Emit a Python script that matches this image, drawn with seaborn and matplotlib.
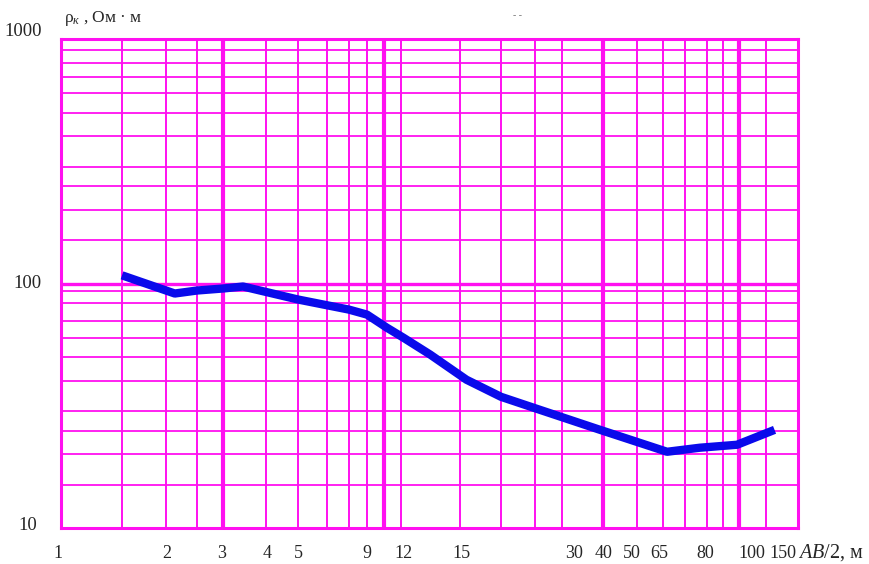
import numpy as np
import matplotlib
matplotlib.use("Agg")
import matplotlib.pyplot as plt
from matplotlib.transforms import ScaledTranslation, blended_transform_factory
import seaborn as sns

# Sounding curve: apparent resistivity vs half-spacing AB/2
ab2 = [1.5, 2.13, 2.5, 3.0, 3.43, 5.0, 7.0, 9.0, 10.3, 12.1, 13.4, 15.7,
       20.0, 25.9, 39.2, 65.9, 76.6, 98.7, 162.0]
rho = [108.0, 91.0, 93.6, 95.4, 97.2, 86.0, 78.2, 74.6, 66.0, 60.1, 51.2, 40.4,
       34.4, 30.4, 25.2, 20.5, 21.3, 21.9, 25.2]

# Printed x tick labels
x_tick_values = [1, 2, 3, 4, 5, 9, 12, 15, 30, 40, 50, 65, 80, 100, 150]
x_tick_labels = ["1", "2", "3", "4", "5", "9", "12", "15", "30", "40", "50",
                 "65", "80", "100", "150"]
y_tick_values = [10, 100, 1000]
y_tick_labels = ["10", "100", "1000"]

# Hand-lettered label placement: horizontal nudge of each x label (pixels)
x_label_nudge = [-3, 1, -1, 1, 0, 0, 2, 1, 12, 1, -5, -4, -2, 13, 17]
# y labels: (right-edge gap from the frame, baseline shift) in pixels
y_label_nudge = [(-24, -2), (-19, -5), (-19, 3)]

# Chart-paper rulings (vertical columns of the log sheet and horizontal rows)
paper_cols = [1, 1.5, 2, 2.5, 3, 4, 5, 6, 7, 9, 10, 12, 15, 20, 25, 30, 40,
              50, 65, 70, 80, 90, 100, 150, 200]
paper_col_pos = [61, 122, 166, 197, 223, 266, 298, 327, 349, 367, 384, 401,
                 460, 501, 535, 562, 603, 637, 663, 685, 707, 723, 739, 766, 798]
bold_cols = [3, 10, 40, 100]
paper_rows = [15, 20, 25, 30, 40, 50, 60, 70, 83, 93, 100,
              150, 200, 250, 300, 400, 500, 600, 700, 800, 900]
bold_rows = [100]

LOG_COLS = np.log10(np.array(paper_cols, float))
POS_COLS = np.array(paper_col_pos, float)


def _piecewise(x, xp, fp):
    x = np.asarray(x, float)
    y = np.interp(x, xp, fp)
    lo_slope = (fp[1] - fp[0]) / (xp[1] - xp[0])
    hi_slope = (fp[-1] - fp[-2]) / (xp[-1] - xp[-2])
    y = np.where(x < xp[0], fp[0] + (x - xp[0]) * lo_slope, y)
    y = np.where(x > xp[-1], fp[-1] + (x - xp[-1]) * hi_slope, y)
    return y


def paper_forward(v):
    v = np.clip(np.asarray(v, float), 1e-6, None)
    return _piecewise(np.log10(v), LOG_COLS, POS_COLS)


def paper_inverse(u):
    return 10 ** _piecewise(u, POS_COLS, LOG_COLS)


sns.set_theme(style="white")
plt.rcParams["font.family"] = ["Liberation Serif", "DejaVu Serif"]
plt.rcParams["mathtext.fontset"] = "custom"
plt.rcParams["mathtext.rm"] = "Liberation Serif"
plt.rcParams["mathtext.it"] = "Liberation Serif:italic"

MAGENTA = "#FF10F0"
BLUE = "#0A0AEB"

fig = plt.figure(figsize=(8.7, 5.64), dpi=100)
W, H = 870, 564
ax = fig.add_axes([61 / W, 1 - 528 / H, (798 - 61) / W, (528 - 39) / H])

ax.set_xscale("function", functions=(paper_forward, paper_inverse))
ax.set_yscale("log")
ax.set_xlim(1, 200)
ax.set_ylim(10, 1000)

for c in paper_cols[1:-1]:
    ax.axvline(c, color=MAGENTA, lw=3.0 if c in bold_cols else 1.4, zorder=1)
for r in paper_rows:
    ax.axhline(r, color=MAGENTA, lw=2.4 if r in bold_rows else 1.3, zorder=1)

sns.lineplot(x=ab2, y=rho, sort=False, estimator=None, color=BLUE,
             lw=6.0, solid_joinstyle="round", solid_capstyle="butt",
             ax=ax, zorder=3, legend=False)

ax.set_xticks(x_tick_values, [""] * len(x_tick_values))
ax.set_yticks(y_tick_values, [""] * len(y_tick_values))
ax.xaxis.set_minor_locator(matplotlib.ticker.NullLocator())
ax.yaxis.set_minor_locator(matplotlib.ticker.NullLocator())
ax.tick_params(length=0)
ax.set_xlabel("")
ax.set_ylabel("")

for s in ax.spines.values():
    s.set_color(MAGENTA)
    s.set_linewidth(2.2)
    s.set_visible(True)

# Tick labels lettered under the paper's ruled lines
xtrans = blended_transform_factory(ax.transData, ax.transAxes)
for v, lab, dx in zip(x_tick_values, x_tick_labels, x_label_nudge):
    off = ScaledTranslation(dx / 100, -30 / 100, fig.dpi_scale_trans)
    ax.text(v, 0, lab, transform=xtrans + off, ha="center", va="baseline",
            fontsize=13, clip_on=False)

ytrans = blended_transform_factory(ax.transAxes, ax.transData)
for v, lab, (dx, dy) in zip(y_tick_values, y_tick_labels, y_label_nudge):
    off = ScaledTranslation(dx / 100, dy / 100, fig.dpi_scale_trans)
    ax.text(0, v, lab, transform=ytrans + off, ha="right", va="baseline",
            fontsize=13.5, clip_on=False)

fig.text(64 / W, 1 - 19 / H, "ρ$_{к}$ , Ом · м", fontsize=12.5,
         ha="left", va="center")
fig.text(798 / W, 1 - 558 / H, "$\\mathit{AB}$/2, м", fontsize=14.5,
         ha="left", va="baseline")
fig.text(518 / W, 1 - 15 / H, "- -", fontsize=7, color="#777777",
         ha="center", va="center")

fig.savefig("out.png", dpi=100, facecolor="white")
